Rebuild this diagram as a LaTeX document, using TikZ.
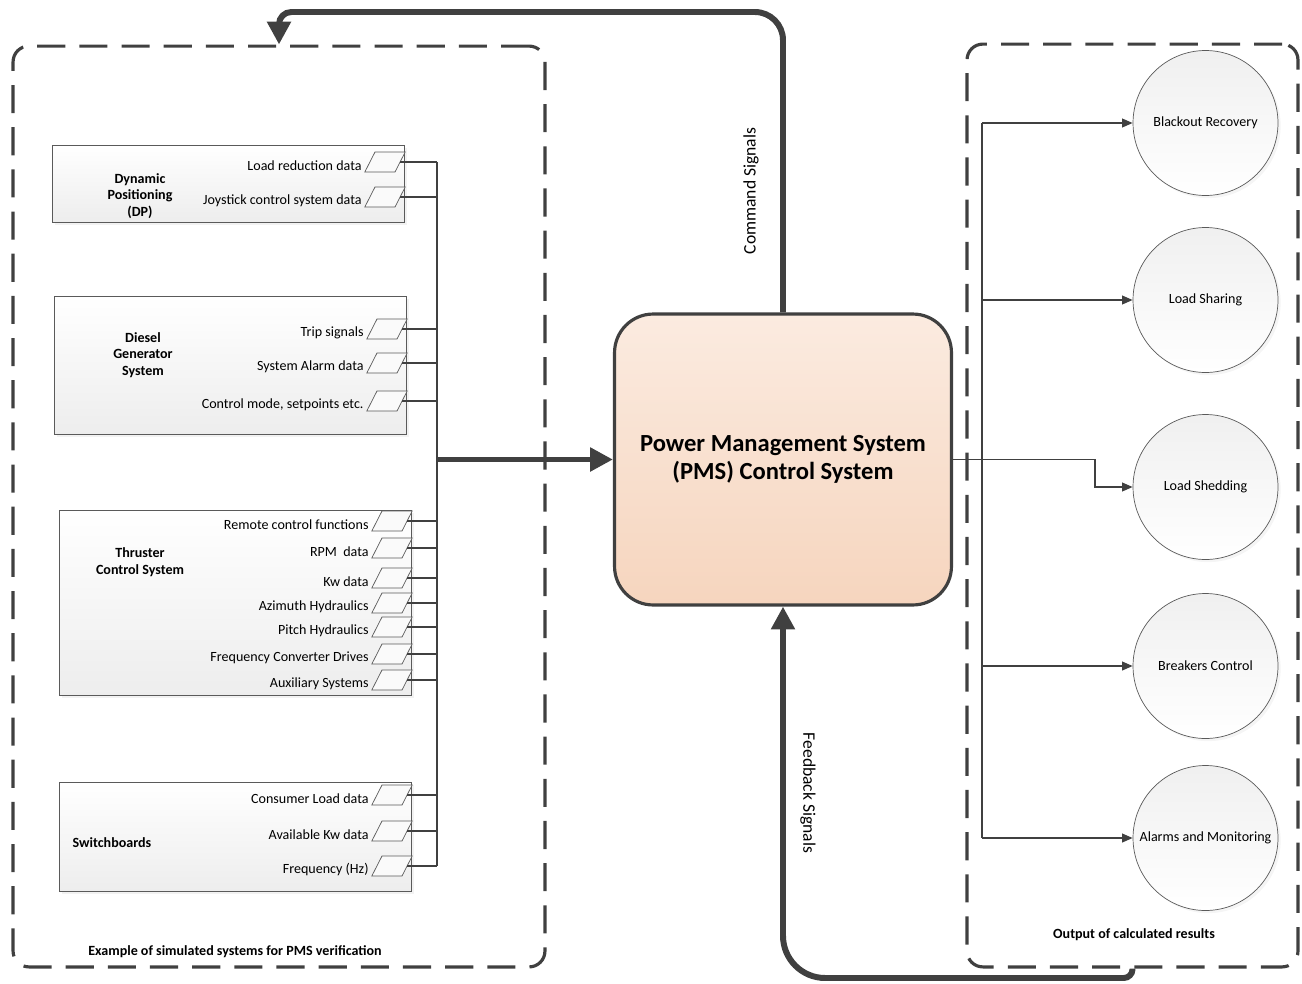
\documentclass[tikz,border=0pt]{standalone}
\usepackage{fontspec}
\setmainfont{Carlito}
\usetikzlibrary{arrows.meta,positioning,shapes.geometric,shadows}
\definecolor{linegray}{HTML}{404040}
\definecolor{boxgray}{HTML}{5A5A5A}
\definecolor{pmstop}{HTML}{FBEBE0}
\definecolor{pmsbot}{HTML}{F6D5BE}
\tikzset{%
	container/.style = {draw=linegray, line width=1.8pt, dash pattern=on 16pt off 8pt, rounded corners=9pt}, % dashed group
	sysbox/.style    = {draw=boxgray, rectangle, top color=white, bottom color=gray!14, drop shadow={shadow xshift=1.5pt, shadow yshift=-1.5pt, fill=black!10}},
	systitle/.style  = {font=\fontsize{8}{9.5}\selectfont\bfseries, align=center},
	port/.style      = {draw=boxgray, trapezium, trapezium left angle=63, trapezium right angle=117, minimum width=0.48cm, minimum height=0.4cm, inner sep=1pt, fill=gray!4},
	portlabel/.style = {font=\fontsize{8}{9.5}\selectfont, yshift=-2pt},
	wire/.style      = {draw=linegray, line width=0.8pt},
	bus/.style       = {draw=linegray, line width=1.3pt},
	pmsbox/.style    = {draw=linegray, line width=1.8pt, rectangle, rounded corners=22pt, top color=pmstop, bottom color=pmsbot, minimum width=6.74cm, minimum height=5.82cm, font=\fontsize{14}{16}\selectfont\bfseries, align=center},
	result/.style    = {draw=boxgray, circle, minimum size=2.9cm, top color=gray!12, bottom color=white, font=\fontsize{8}{9.5}\selectfont, inner sep=0pt, drop shadow={shadow xshift=1.5pt, shadow yshift=-1.5pt, fill=black!8}},
	grouplabel/.style= {font=\fontsize{8}{9.5}\selectfont\bfseries},
	siglabel/.style  = {font=\fontsize{10}{12}\selectfont},
	sig/.style       = {draw=linegray, line width=3.4pt, -{Triangle[length=13pt,width=13pt]}},
	feed/.style      = {draw=linegray, line width=0.8pt, -{Triangle[length=6pt,width=5pt]}},
}

\begin{document}
\begin{tikzpicture}[x=0.02cm, y=-0.02cm]
	\useasboundingbox (0,0) rectangle (1302,984);
	% dashed groups
	\node [container, minimum width=10.64cm, minimum height=18.42cm] (simgrp) at (279,506.5) {};
	\node [container, minimum width=6.62cm, minimum height=18.46cm] (outgrp) at (1132.5,505.5) {};
	\node [grouplabel] at (235,952) {Example of simulated systems for PMS verification};
	\node [grouplabel] at (1134,935) {Output of calculated results};

	% simulated systems
	\node [sysbox, minimum width=7.04cm, minimum height=1.54cm] (dp) at (228,183.5) {};
	\node [systitle] at (140,196) {Dynamic\\Positioning\\(DP)};
	\node [sysbox, minimum width=7.04cm, minimum height=2.76cm] (dg) at (230,365) {};
	\node [systitle] at (143,355) {Diesel\\Generator\\System};
	\node [sysbox, minimum width=7.04cm, minimum height=3.7cm] (tcs) at (235,602.5) {};
	\node [systitle] at (140,562) {Thruster\\Control System};
	\node [sysbox, minimum width=7.04cm, minimum height=2.18cm] (swb) at (235,836.5) {};
	\node [systitle] at (112,843) {Switchboards};

	\coordinate (bus) at (437,459.5);

	\node [port] (dp1) at (385,162) {};
	\node [port] (dp2) at (385,197) {};
	\node [port] (dg1) at (387,329) {};
	\node [port] (dg2) at (387,363) {};
	\node [port] (dg3) at (387,401) {};
	\node [port] (tcs1) at (392,521) {};
	\node [port] (tcs2) at (392,548) {};
	\node [port] (tcs3) at (392,578) {};
	\node [port] (tcs4) at (392,603) {};
	\node [port] (tcs5) at (392,627) {};
	\node [port] (tcs6) at (392,654) {};
	\node [port] (tcs7) at (392,680) {};
	\node [port] (swb1) at (392,795) {};
	\node [port] (swb2) at (392,831) {};
	\node [port] (swb3) at (392,866) {};

	\node [portlabel, left=1pt of dp1] {Load reduction data};
	\node [portlabel, left=1pt of dp2] {Joystick control system data};
	\node [portlabel, left=1pt of dg1] {Trip signals};
	\node [portlabel, left=1pt of dg2] {System Alarm data};
	\node [portlabel, left=1pt of dg3] {Control mode, setpoints etc.};
	\node [portlabel, left=1pt of tcs1] {Remote control functions};
	\node [portlabel, left=1pt of tcs2] {RPM~ data};
	\node [portlabel, left=1pt of tcs3] {Kw data};
	\node [portlabel, left=1pt of tcs4] {Azimuth Hydraulics};
	\node [portlabel, left=1pt of tcs5] {Pitch Hydraulics};
	\node [portlabel, left=1pt of tcs6] {Frequency Converter Drives};
	\node [portlabel, left=1pt of tcs7] {Auxiliary Systems};
	\node [portlabel, left=1pt of swb1] {Consumer Load data};
	\node [portlabel, left=1pt of swb2] {Available Kw data};
	\node [portlabel, left=1pt of swb3] {Frequency (Hz)};

	\draw [wire] (dp1.east) -- (dp1.east -| bus);
	\draw [wire] (dp2.east) -- (dp2.east -| bus);
	\draw [wire] (dg1.east) -- (dg1.east -| bus);
	\draw [wire] (dg2.east) -- (dg2.east -| bus);
	\draw [wire] (dg3.east) -- (dg3.east -| bus);
	\draw [wire] (tcs1.east) -- (tcs1.east -| bus);
	\draw [wire] (tcs2.east) -- (tcs2.east -| bus);
	\draw [wire] (tcs3.east) -- (tcs3.east -| bus);
	\draw [wire] (tcs4.east) -- (tcs4.east -| bus);
	\draw [wire] (tcs5.east) -- (tcs5.east -| bus);
	\draw [wire] (tcs6.east) -- (tcs6.east -| bus);
	\draw [wire] (tcs7.east) -- (tcs7.east -| bus);
	\draw [wire] (swb1.east) -- (swb1.east -| bus);
	\draw [wire] (swb2.east) -- (swb2.east -| bus);
	\draw [wire] (swb3.east) -- (swb3.east -| bus);
	\draw [bus] (dp1.east -| bus) -- (swb3.east -| bus);

	% control system
	\node [pmsbox] (pms) at (783,459.5) {Power Management System\\(PMS) Control System};
	\draw [sig] (bus) -- (pms.west);

	% outputs
	\node [result] (bor) at (1205.5,123) {Blackout Recovery};
	\node [result] (lsh) at (1205.5,300) {Load Sharing};
	\node [result] (lsd) at (1205.5,487) {Load Shedding};
	\node [result] (brc) at (1205.5,666) {Breakers Control};
	\node [result] (alm) at (1205.5,838) {Alarms and Monitoring};

	\coordinate (rbus) at (982,459.5);
	\coordinate (turn) at (1095,459.5);
	\draw [wire] (rbus |- bor.west) -- (rbus |- alm.west);
	\draw [feed] (rbus |- bor.west) -- (bor.west);
	\draw [feed] (rbus |- lsh.west) -- (lsh.west);
	\draw [feed] (pms.east) -- (turn) |- (lsd.west);
	\draw [feed] (rbus |- brc.west) -- (brc.west);
	\draw [feed] (rbus |- alm.west) -- (alm.west);

	% command and feedback loops
	\coordinate (cmdmid) at (500,12);
	\coordinate (fbmid) at (950,978);
	\draw [sig] (pms.north) [rounded corners=16pt] |- (cmdmid) [rounded corners=7pt] -| (simgrp.north);
	\draw [sig] (outgrp.south) [rounded corners=5pt] |- (fbmid) [rounded corners=24pt] -| (pms.south);
	\node [siglabel, rotate=90] at (751,191) {Command Signals};
	\node [siglabel, rotate=-90] at (808,793) {Feedback Signals};
\end{tikzpicture}
\end{document}
